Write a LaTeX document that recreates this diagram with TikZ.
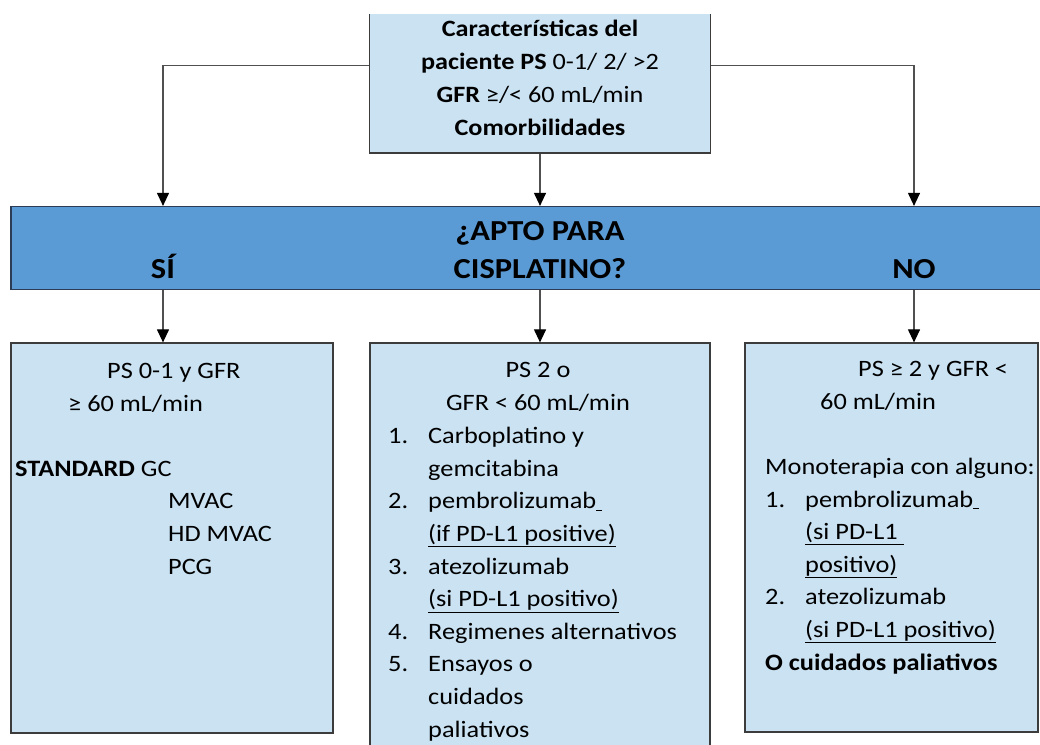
\documentclass[tikz,border=0pt]{standalone}
\usepackage{fontspec}
\setmainfont{Carlito}[FakeStretch=1.12]
\usetikzlibrary{arrows.meta, positioning}
\definecolor{boxfill}{RGB}{202,226,242}
\definecolor{bandfill}{RGB}{91,155,213}
\definecolor{boxline}{RGB}{60,60,60}
\definecolor{bandline}{RGB}{45,60,85}
\definecolor{conngray}{RGB}{80,80,80}
\newcommand{\numlab}[1]{\makebox[40pt][l]{#1.}}
\newcommand{\listind}{\hspace*{40pt}}
\tikzset{
  box/.style={rectangle, draw=boxline, fill=boxfill, line width=1.2pt, inner sep=0pt},
  band/.style={rectangle, draw=bandline, fill=bandfill, line width=1.2pt, inner sep=0pt},
  bodytext/.style={inner sep=0pt, font=\fontsize{23.5}{32.6}\selectfont},
  titletext/.style={inner sep=0pt, align=center, font=\fontsize{23.4}{32.7}\selectfont\bfseries},
  bandtext/.style={inner sep=0pt, font=\fontsize{29}{37.7}\selectfont\bfseries},
  arrow/.style={-{Triangle[length=13pt,width=12pt,black]}, line width=1.1pt, color=conngray}
}

\begin{document}
\begin{tikzpicture}[x=1pt,y=-1pt]
  \useasboundingbox (0,0) rectangle (1040,744);
  \clip (0,0) rectangle (1040,744);

  % Patient box (top, cut off above)
  \begin{scope}
    \clip (0,14) rectangle (1040,744);
    \node[box, minimum width=341pt, minimum height=175pt] (patient) at (540,65.5) {};
  \end{scope}
  % multi-line texts: base = last line
  \node[titletext, anchor=base] (patienttxt) at (540,135)
    {Características del\\paciente PS {\mdseries 0-1/ 2/ >2}\\GFR {\mdseries ≥/< 60 mL/min}\\Comorbilidades};

  % Decision band
  \node[band, minimum width=1060pt, minimum height=83pt] (cisband) at (541,248) {};
  \node[bandtext, anchor=base, align=center] (apto) at (540,278) {¿APTO PARA\\CISPLATINO?};
  \node[bandtext, anchor=base] (si) at (163,278) {SÍ};
  \node[bandtext, anchor=base] (no) at (914,278) {NO};

  % Result boxes
  \node[box, minimum width=322pt, minimum height=390pt] (fitbox) at (172,538) {};
  \node[box, minimum width=340pt, minimum height=420pt] (midbox) at (540,553) {};
  \node[box, minimum width=293pt, minimum height=389pt] (unfitbox) at (891.5,537.5) {};

  % Connectors
  \draw[arrow] (patient.west) -| (si |- cisband.north);
  \draw[arrow] (patient.south) -- (patient.south |- cisband.north);
  \draw[arrow] (patient.east) -| (no |- cisband.north);
  \draw[arrow] (si |- cisband.south) -- (si |- fitbox.north);
  \draw[arrow] (midbox.north |- cisband.south) -- (midbox.north);
  \draw[arrow] (no |- cisband.south) -- (no |- unfitbox.north);

  % Box texts
  \node[bodytext, anchor=base west, align=left] (fittxt) at (15,574)
    {\hspace*{92pt}PS 0-1 y GFR\\ \hspace*{53pt}≥ 60 mL/min\\ \mbox{}\\ \textbf{STANDARD} GC\\
     \hspace*{153pt}MVAC\\ \hspace*{153pt}HD MVAC\\ \hspace*{153pt}PCG};
  \node[bodytext, anchor=base, align=center] (midhead) at (538,410) {PS 2 o\\GFR < 60 mL/min};
  \node[bodytext, anchor=base west, align=left] (midlist) at (388,737)
    {\numlab{1}Carboplatino y\\ \listind gemcitabina\\ \numlab{2}pembrolizumab\underline{\ }\\
     \listind\underline{(if PD-L1 positive)}\\ \numlab{3}atezolizumab\\ \listind\underline{(si PD-L1 positivo)}\\
     \numlab{4}Regimenes alternativos\\ \numlab{5}Ensayos o\\ \listind cuidados\\ \listind paliativos};
  \node[bodytext, anchor=base west, align=left] (unfittxt) at (765,670)
    {\hspace*{93pt}PS ≥ 2 y GFR <\\ \hspace*{55pt}60 mL/min\\ \mbox{}\\ Monoterapia con alguno:\\
     \numlab{1}pembrolizumab\underline{\ }\\ \listind\underline{(si PD-L1\ }\\ \listind\underline{positivo)}\\
     \numlab{2}atezolizumab\\ \listind\underline{(si PD-L1 positivo)}\\ \textbf{O cuidados paliativos}};
\end{tikzpicture}
\end{document}
